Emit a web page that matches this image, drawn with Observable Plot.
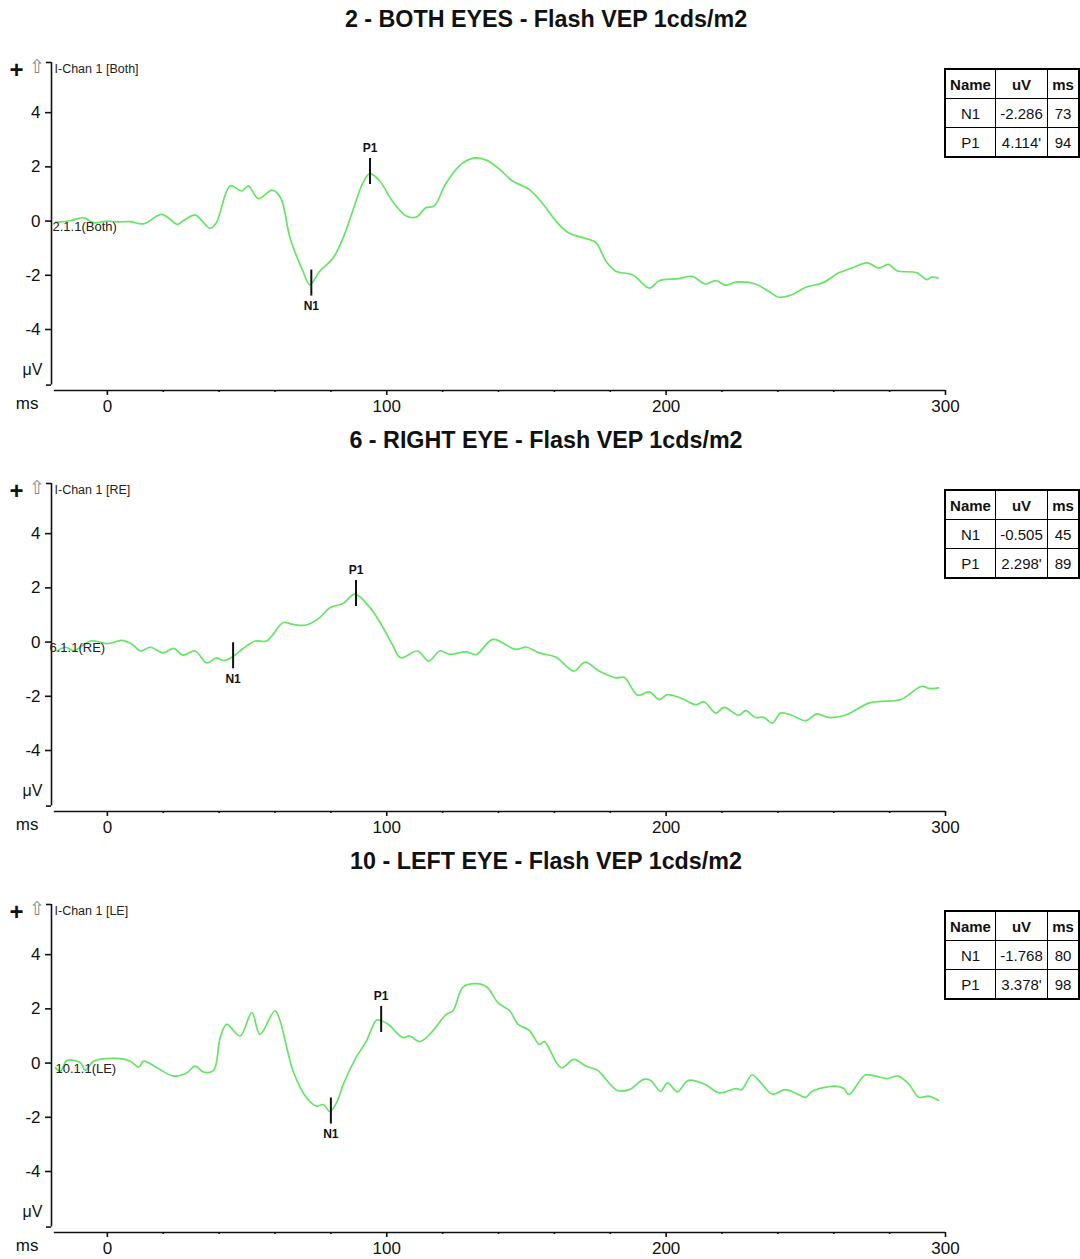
<!DOCTYPE html>
<html><head><meta charset="utf-8">
<script src="https://cdn.jsdelivr.net/npm/d3@7"></script>
<script src="https://cdn.jsdelivr.net/npm/@observablehq/plot@0.6"></script>
<style>
body{margin:0;background:#fff;font-family:"Liberation Sans",Arial,sans-serif;overflow:hidden}
.panel{position:relative;width:1080px;height:421px}
.panel svg{position:absolute;left:0;top:0}
.title{position:absolute;left:0;width:1092px;top:6px;text-align:center;font-weight:bold;font-size:23.3px;color:#111;z-index:2}
table.res{position:absolute;left:944px;top:68px;border-collapse:collapse;border:2px solid #000;z-index:2;background:#fff}
table.res td{border:1.5px solid #000;height:28px;padding:0;text-align:center;font-size:15px;color:#111}
table.res tr.h td{font-weight:bold}
</style>
</head><body>
<div id="root"></div>
<script>
// ---------- data ----------
const titles = ["2 - BOTH EYES - Flash VEP 1cds/m2", "6 - RIGHT EYE - Flash VEP 1cds/m2", "10 - LEFT EYE - Flash VEP 1cds/m2"];
const chanLabels = ["I-Chan 1 [Both]", "I-Chan 1 [RE]", "I-Chan 1 [LE]"];
const traceLabels = ["2.1.1(Both)", "6.1.1(RE)", "10.1.1(LE)"];
const tableHeader = ["Name", "uV", "ms"];
const peakNames = ["N1", "P1"];
const n1Uv = [-2.286, -0.505, -1.768];
const n1Ms = [73, 45, 80];
const p1Uv = [4.114, 2.298, 3.378];
const p1Ms = [94, 89, 98];
const xTicks = [0, 100, 200, 300];
const yTicks = [-4, -2, 0, 2, 4];

const bothMs = [-18.6,-13,-8.4,-5,0,3.5,8,13,19.5,25,27,31.4,36.8,39,44,48,50.5,54,59,62,65.4,70,72.5,76,80.8,84.4,88,91.5,94,97.5,102,107,110.6,114,117,121,126,131,135.6,140.4,145,151,156,160.6,165,172.5,175,178.5,182,188,194,197.5,204.6,209.4,214,217.8,221.3,225,232,236.8,240.4,245,250,256,261.8,266.5,272,276,279.6,282.6,289.8,293.3,295,297.5];
const bothUv = [-0.05,0.02,0.12,-0.06,0.0,-0.03,-0.02,-0.1,0.25,-0.12,0.0,0.22,-0.27,-0.06,1.3,1.11,1.3,0.83,1.14,0.86,-0.62,-1.85,-2.35,-1.85,-1.36,-0.62,0.43,1.42,1.75,1.48,0.74,0.19,0.15,0.49,0.56,1.36,2.04,2.32,2.25,1.91,1.48,1.17,0.62,0,-0.43,-0.68,-0.8,-1.48,-1.85,-1.98,-2.47,-2.2,-2.12,-2.04,-2.32,-2.2,-2.37,-2.25,-2.32,-2.6,-2.81,-2.72,-2.44,-2.28,-1.91,-1.73,-1.54,-1.73,-1.6,-1.83,-1.91,-2.16,-2.07,-2.1];

const rightMs = [-18,-15,-12,-6,0,5.2,9,11.8,15.4,20,23.7,27,31.4,35.6,39,41.5,44.5,48.7,52.9,57,63,66.5,71.3,76,79.6,84.4,88.6,94,98.7,102,105,111,115,119,122.5,128.5,132,138,146,150,154.6,160.6,167,171,176,182,185,189.8,194,197.5,200.5,205.8,210.6,213.6,217.8,220.7,226,228.5,232,235,238,241,245,250,254,258,264,272.5,277,284,291.5,294,297.5];
const rightUv = [-0.33,-0.19,-0.31,0.04,-0.06,0.06,-0.09,-0.33,-0.19,-0.4,-0.23,-0.48,-0.33,-0.77,-0.58,-0.68,-0.56,-0.23,0.04,0.04,0.72,0.65,0.63,0.9,1.27,1.42,1.77,1.27,0.53,-0.09,-0.58,-0.33,-0.7,-0.33,-0.45,-0.36,-0.46,0.1,-0.27,-0.19,-0.4,-0.56,-1.07,-0.74,-1.07,-1.32,-1.3,-1.96,-1.84,-2.12,-1.94,-2.09,-2.31,-2.21,-2.62,-2.41,-2.7,-2.53,-2.78,-2.78,-2.99,-2.62,-2.7,-2.9,-2.65,-2.78,-2.7,-2.25,-2.19,-2.12,-1.63,-1.71,-1.69];

const leftMs = [-18.6,-16.8,-14.4,-9.6,-7.9,-4.9,3.5,8.2,11.2,13,17.7,23.7,28.5,31.4,34.4,38,40.4,42.7,47.5,51.7,54.6,60,61.8,66.5,71.3,74.9,77.3,79.6,82,84.4,89,92.7,96.3,98,100.5,105.8,108.2,111.8,116.5,121.3,123.7,127.3,132,136,139.8,144,147,151,154.6,156.4,162.4,167,171.3,175.5,177,182.6,186.8,192,194.5,198,200.5,204,208,214,219,225,227,230.8,234.4,238,242.7,246.9,250,252.3,260.6,263.6,265.4,271.3,275,279,283,287,290.4,294,297.5];
const leftUv = [-0.17,-0.3,0.1,0.01,-0.27,0.07,0.17,0.07,-0.15,0.07,-0.17,-0.48,-0.36,-0.11,-0.33,-0.27,0.94,1.43,1.0,1.86,1.06,1.93,1.56,-0.3,-1.28,-1.59,-1.53,-1.78,-1.47,-0.79,0.2,0.81,1.58,1.56,1.43,0.94,1.0,0.79,1.19,1.8,1.93,2.8,2.93,2.79,2.23,1.93,1.43,1.21,0.69,0.79,-0.17,0.14,-0.11,-0.27,-0.42,-1.01,-0.98,-0.6,-0.64,-1.04,-0.73,-1.06,-0.64,-0.79,-1.1,-0.94,-0.98,-0.44,-0.79,-1.14,-0.98,-1.14,-1.26,-1.04,-0.85,-0.94,-1.16,-0.44,-0.48,-0.57,-0.48,-0.79,-1.26,-1.22,-1.38];

const seriesMs = [bothMs, rightMs, leftMs];
const seriesUv = [bothUv, rightUv, leftUv];
const traceLabelDx = [1, -2, 4];

// ---------- drawing ----------
const FONT = '"Liberation Sans", Arial, sans-serif';
const GREEN = "#66e466";
const root = document.getElementById("root");
const minorTicks = d3.range(-20, 301, 20).filter(v => v % 100 !== 0 && v > -20);

titles.forEach((title, i) => {
  const div = document.createElement("div");
  div.className = "panel";
  root.appendChild(div);

  const t = document.createElement("div");
  t.className = "title";
  t.textContent = title;
  div.appendChild(t);

  const data = seriesMs[i].map((m, k) => ({ms: m, uv: seriesUv[i][k]}));
  const peaks = [
    {name: peakNames[0], ms: n1Ms[i], level: n1Uv[i]},
    {name: peakNames[1], ms: p1Ms[i], level: n1Uv[i] + p1Uv[i]}
  ];
  const half = 0.48;

  const svg = Plot.plot({
    width: 1080, height: 421,
    marginLeft: 51, marginRight: 135, marginTop: 62, marginBottom: 31,
    style: {fontFamily: FONT, background: "transparent", overflow: "visible", color: "#111"},
    x: {domain: [-20, 300]},
    y: {domain: [-6.25, 5.85]},
    marks: [
      Plot.ruleX([-20], {y1: -6.05, y2: 5.85, stroke: "#111", strokeWidth: 1.6}),
      Plot.axisY({ticks: yTicks, tickSize: 6, tickPadding: 5, fontSize: 17, tickFormat: d => String(d), label: null, strokeWidth: 1.6}),
      Plot.axisY({ticks: [-6.05, 5.85], tickSize: 5, tickFormat: () => "", label: null, strokeWidth: 1.6}),
      Plot.ruleY([-6.25], {x1: -19, x2: 300, stroke: "#111", strokeWidth: 1.6}),
      Plot.axisX({ticks: xTicks, tickSize: 5, tickPadding: 4, fontSize: 17, label: null, strokeWidth: 1.6}),
      Plot.axisX({ticks: minorTicks, tickSize: 2, tickFormat: () => "", label: null, strokeWidth: 1.6}),
      Plot.text(["μV"], {frameAnchor: "bottom-left", dx: -9, dy: -16, textAnchor: "end", fontSize: 16, fill: "#111"}),
      Plot.text(["ms"], {frameAnchor: "bottom-left", dx: -13, dy: 18, textAnchor: "end", fontSize: 17, fill: "#111"}),
      Plot.text(["+"], {frameAnchor: "top-left", dx: -35, dy: -2, textAnchor: "middle", fontSize: 24, fontWeight: "bold", fill: "#111"}),
      Plot.text(["⇧"], {frameAnchor: "top-left", dx: -15, dy: -3, textAnchor: "middle", fontSize: 19, fill: "#888"}),
      Plot.text([chanLabels[i]], {frameAnchor: "top-left", dx: 3, dy: 2, textAnchor: "start", fontSize: 12.5, fill: "#222"}),
      Plot.line(data, {x: "ms", y: "uv", stroke: GREEN, strokeWidth: 1.7, curve: "catmull-rom"}),
      Plot.text([traceLabels[i]], {x: () => -20, y: () => 0, dx: traceLabelDx[i], dy: 6, textAnchor: "start", fontSize: 13, fill: "#222"}),
      Plot.ruleX(peaks, {x: "ms", y1: d => d.level - half, y2: d => d.level + half, stroke: "#111", strokeWidth: 2}),
      Plot.text(peaks.filter(d => d.name === "P1"), {x: "ms", y: d => d.level + half, dy: -10, text: "name", fontSize: 12, fontWeight: "bold", fill: "#111"}),
      Plot.text(peaks.filter(d => d.name === "N1"), {x: "ms", y: d => d.level - half, dy: 10, text: "name", fontSize: 12, fontWeight: "bold", fill: "#111"})
    ]
  });
  div.appendChild(svg);

  const tbl = document.createElement("table");
  tbl.className = "res";
  const widths = [49, 51, 30];
  const rows = [
    {cls: "h", cells: tableHeader},
    {cls: "", cells: [peakNames[0], n1Uv[i].toFixed(3), String(n1Ms[i])]},
    {cls: "", cells: [peakNames[1], p1Uv[i].toFixed(3) + "'", String(p1Ms[i])]}
  ];
  rows.forEach(r => {
    const tr = document.createElement("tr");
    if (r.cls) tr.className = r.cls;
    r.cells.forEach((c, k) => {
      const td = document.createElement("td");
      td.textContent = c;
      td.style.width = widths[k] + "px";
      tr.appendChild(td);
    });
    tbl.appendChild(tr);
  });
  div.appendChild(tbl);
});
</script>
</body></html>
